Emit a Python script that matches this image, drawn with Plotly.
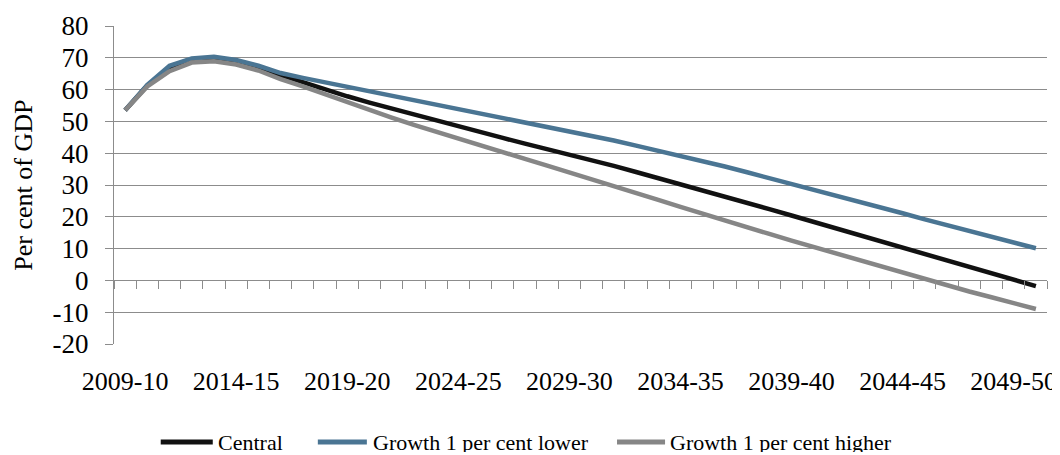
import plotly.graph_objects as go

years = [f"{y}-{str(y + 1)[-2:]}" for y in range(2009, 2051)]

central = [53.5, 61.3, 66.5, 69.0, 69.5, 68.6, 66.8, 64.5, 62.2, 60.0,
           57.9, 55.9, 54.0, 52.1, 50.2, 48.4, 46.6, 44.8, 43.0, 41.3,
           39.6, 37.8, 36.0, 34.1, 32.2, 30.3, 28.3, 26.3, 24.4, 22.4,
           20.4, 18.4, 16.4, 14.4, 12.4, 10.4, 8.3, 6.3, 4.3, 2.2,
           0.2, -1.8]

growth_lower = [53.5, 61.5, 67.5, 69.8, 70.3, 69.3, 67.5, 65.2, 63.7, 62.3,
                61.0, 59.7, 58.3, 56.9, 55.5, 54.1, 52.6, 51.2, 49.8, 48.4,
                47.0, 45.6, 44.0, 42.4, 40.8, 39.2, 37.5, 35.8, 34.0, 32.2,
                30.4, 28.6, 26.7, 24.9, 23.0, 21.1, 19.2, 17.4, 15.5, 13.7,
                11.9, 10.1]

growth_higher = [53.5, 61.0, 65.8, 68.5, 68.9, 67.9, 66.0, 63.3, 61.0, 58.5,
                 56.0, 53.6, 51.2, 48.9, 46.7, 44.5, 42.4, 40.3, 38.2, 36.1,
                 34.0, 31.9, 29.7, 27.5, 25.3, 23.1, 20.9, 18.8, 16.7, 14.6,
                 12.5, 10.5, 8.4, 6.4, 4.3, 2.3, 0.3, -1.6, -3.5, -5.3,
                 -7.2, -9.0]

series_names = ["Central", "Growth 1 per cent lower", "Growth 1 per cent higher"]
series_colors = ["#111111", "#4A7593", "#868686"]
tick_labels = years[::5]
y_ticks = list(range(-20, 81, 10))
y_tick_text = [str(v) for v in y_ticks]

FONT = "Liberation Serif"
GRID = "#8C8C8C"

fig = go.Figure()
for name, vals, col in zip(series_names, [central, growth_lower, growth_higher], series_colors):
    fig.add_trace(go.Scatter(x=years, y=vals, mode="lines", name=name,
                             line=dict(color=col, width=4.5), showlegend=False))

# dummy trace so the tick-mark axis (x2) exists
fig.add_trace(go.Scatter(x=[-0.5, len(years) - 0.5], y=[None, None], xaxis="x2",
                         mode="lines", showlegend=False, hoverinfo="skip"))

# page has an 8px body margin; work in page pixels and convert
OFF = 8
PL, PR, PT, PB = 114.3, 1046.7, 25.7, 344.0   # plot area in page pixels
W, H = 1052, 447
L = PL - OFF
T = PT - OFF
R = W - (PR - OFF)
B = H - (PB - OFF)
pw = PR - PL
ph = PB - PT

def px2x(px):
    return (px - PL) / pw

def py2y(py):
    return (PB - py) / ph

# manual legend
legend_items = [(161, 213, 217), (318, 367, 372), (617, 665, 669)]
for (x0, x1, xt), name, col in zip(legend_items, series_names, series_colors):
    fig.add_shape(type="line", xref="paper", yref="paper",
                  x0=px2x(x0), x1=px2x(x1), y0=py2y(442), y1=py2y(442),
                  line=dict(color=col, width=5))
    fig.add_annotation(xref="paper", yref="paper", x=px2x(xt), y=py2y(442),
                       text=name, showarrow=False, xanchor="left", yanchor="middle",
                       height=20, borderpad=0,
                       font=dict(family=FONT, size=22, color="black"))

fig.add_annotation(xref="paper", yref="paper", x=px2x(23), y=0.5,
                   text="Per cent of GDP", textangle=-90, showarrow=False,
                   xanchor="center", yanchor="middle",
                   font=dict(family=FONT, size=26, color="black"))

fig.update_layout(
    width=W, height=H,
    margin=dict(l=L, r=R, t=T, b=B, autoexpand=False),
    paper_bgcolor="white", plot_bgcolor="white",
    font=dict(family=FONT, size=26, color="black"),
    xaxis=dict(type="category", categoryarray=years, range=[-0.5, len(years) - 0.5],
               tickmode="array", tickvals=tick_labels, ticktext=tick_labels,
               showgrid=False, showline=False, zeroline=False, ticks="",
               ticklabelstandoff=19, tickfont=dict(family=FONT, size=26)),
    xaxis2=dict(overlaying="x", anchor="free", position=0.2, type="linear",
                range=[-0.5, len(years) - 0.5], tick0=-0.5, dtick=1,
                ticks="outside", ticklen=8, tickcolor=GRID, tickwidth=1,
                showticklabels=False, showgrid=False, showline=False, zeroline=False),
    yaxis=dict(range=[-20, 80], tickmode="array", tickvals=y_ticks, ticktext=y_tick_text,
               showgrid=True, gridcolor=GRID,
               gridwidth=1, showline=True, linecolor=GRID, linewidth=1,
               ticks="outside", ticklen=8, tickcolor=GRID, zeroline=False,
               ticklabelstandoff=11, tickfont=dict(family=FONT, size=27)),
)

fig.write_html("out.html")
